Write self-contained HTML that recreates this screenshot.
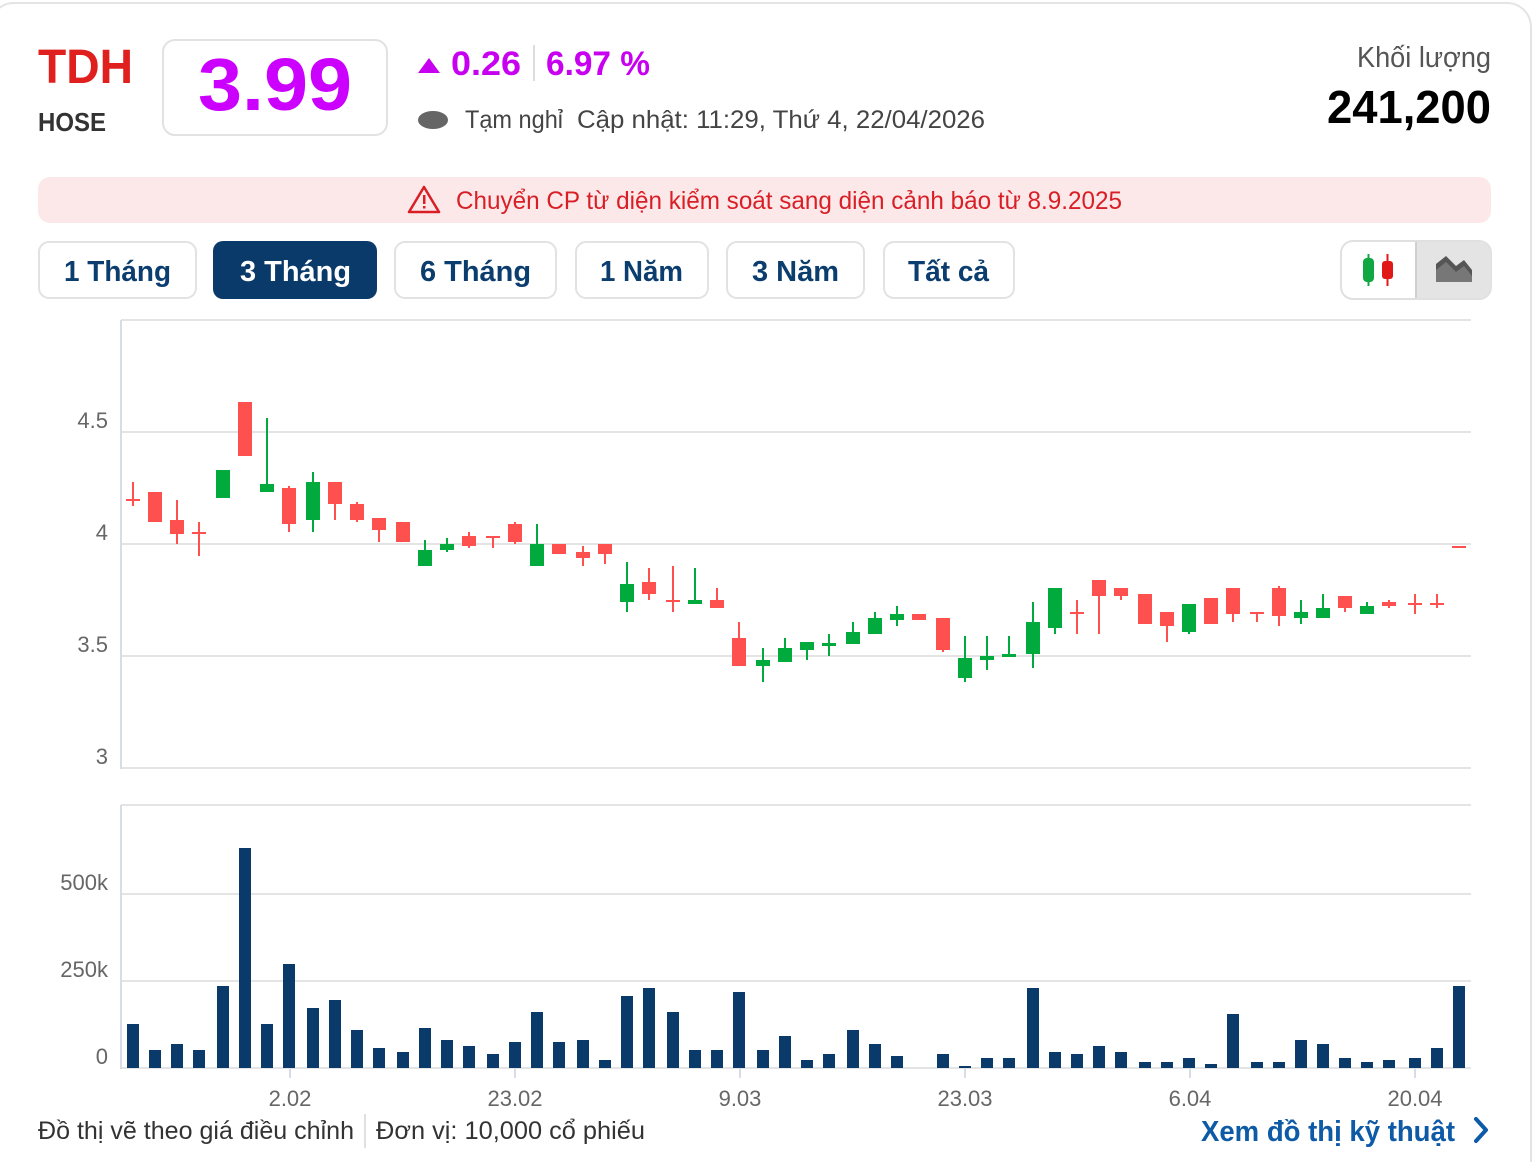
<!DOCTYPE html>
<html><head><meta charset="utf-8"><style>
html,body{margin:0;padding:0;background:#fff;width:1538px;height:1162px;overflow:hidden}
svg text{font-family:"Liberation Sans",sans-serif}
</style></head><body>
<svg id="s" width="1538" height="1162" viewBox="0 0 1538 1162" xmlns="http://www.w3.org/2000/svg">
<rect x="-10" y="3" width="1541" height="1200" rx="24" fill="#fff" stroke="#e4e4e4" stroke-width="2"/>
<text x="38" y="83" font-size="48" font-weight="bold" fill="#e0201f" textLength="95" lengthAdjust="spacingAndGlyphs">TDH</text>
<text x="38" y="131" font-size="26" font-weight="bold" fill="#333" textLength="68" lengthAdjust="spacingAndGlyphs">HOSE</text>
<rect x="163" y="40" width="224" height="95" rx="12" fill="#fff" stroke="#e2e2e2" stroke-width="2"/>
<text x="198" y="110" font-size="74" font-weight="bold" fill="#cc00ff" textLength="154" lengthAdjust="spacingAndGlyphs">3.99</text>
<path d="M418 73 L429 58 L440 73 Z" fill="#c800f0"/>
<text x="451" y="75" font-size="34" font-weight="bold" fill="#c800f0" textLength="70" lengthAdjust="spacingAndGlyphs">0.26</text>
<rect x="533" y="45" width="2" height="36" fill="#ddd"/>
<text x="546" y="75" font-size="34" font-weight="bold" fill="#c800f0" textLength="104" lengthAdjust="spacingAndGlyphs">6.97 %</text>
<ellipse cx="433" cy="120" rx="15" ry="9" fill="#666"/>
<text x="465" y="128" font-size="25" fill="#444" textLength="98" lengthAdjust="spacingAndGlyphs">Tạm nghỉ</text>
<text x="577" y="128" font-size="25" fill="#444" textLength="408" lengthAdjust="spacingAndGlyphs">Cập nhật: 11:29, Thứ 4, 22/04/2026</text>
<text x="1491" y="67" font-size="29" fill="#555" text-anchor="end" textLength="134" lengthAdjust="spacingAndGlyphs">Khối lượng</text>
<text x="1491" y="123" font-size="46" font-weight="bold" fill="#000" text-anchor="end" textLength="164" lengthAdjust="spacingAndGlyphs">241,200</text>
<rect x="38" y="177" width="1453" height="46" rx="12" fill="#fde8e9"/>
<path d="M424 187 L439 212 L409 212 Z" fill="none" stroke="#d81f26" stroke-width="2.5" stroke-linejoin="round"/>
<rect x="423" y="195" width="2.5" height="9" fill="#d81f26"/><rect x="423" y="206" width="2.5" height="2.5" fill="#d81f26"/>
<text x="456" y="209" font-size="25" fill="#d81f26" textLength="666" lengthAdjust="spacingAndGlyphs">Chuyển CP từ diện kiểm soát sang diện cảnh báo từ 8.9.2025</text>
<g font-size="29" font-weight="bold" fill="#0b3d6e">
<rect x="39" y="242" width="157" height="56" rx="10" fill="#fff" stroke="#e2e2e2" stroke-width="2"/>
<text x="64" y="281" textLength="107" lengthAdjust="spacingAndGlyphs">1 Tháng</text>
<rect x="213" y="241" width="164" height="58" rx="10" fill="#0a3a6a"/>
<text x="240" y="281" fill="#fff" textLength="111" lengthAdjust="spacingAndGlyphs">3 Tháng</text>
<rect x="395" y="242" width="161" height="56" rx="10" fill="#fff" stroke="#e2e2e2" stroke-width="2"/>
<text x="420" y="281" textLength="111" lengthAdjust="spacingAndGlyphs">6 Tháng</text>
<rect x="576" y="242" width="132" height="56" rx="10" fill="#fff" stroke="#e2e2e2" stroke-width="2"/>
<text x="600" y="281" textLength="83" lengthAdjust="spacingAndGlyphs">1 Năm</text>
<rect x="727" y="242" width="137" height="56" rx="10" fill="#fff" stroke="#e2e2e2" stroke-width="2"/>
<text x="752" y="281" textLength="87" lengthAdjust="spacingAndGlyphs">3 Năm</text>
<rect x="884" y="242" width="130" height="56" rx="10" fill="#fff" stroke="#e2e2e2" stroke-width="2"/>
<text x="908" y="281" textLength="81" lengthAdjust="spacingAndGlyphs">Tất cả</text>
</g>
<rect x="1341" y="241" width="150" height="58" rx="12" fill="#fff" stroke="#e0e0e0" stroke-width="2"/>
<path d="M1416 242 H1479 a12 12 0 0 1 12 12 V286 a12 12 0 0 1 -12 12 H1416 Z" fill="#e4e4e4"/>
<rect x="1415" y="242" width="2" height="56" fill="#d0d0d0"/>
<rect x="1363" y="258" width="11" height="24" rx="4" fill="#11a844"/><rect x="1367.5" y="254" width="2" height="32" fill="#11a844"/>
<rect x="1382" y="261" width="11" height="18" rx="3" fill="#e01818"/><rect x="1386.5" y="254" width="2" height="32" fill="#e01818"/>
<path d="M1436 282 V264 L1446 256 L1456 266 L1464 260 L1472 270 V282 Z" fill="#555"/>
<path d="M1436 282 V270 L1446 262 L1456 272 L1464 266 L1472 276 V282 Z" fill="#777"/>
<g stroke="#e4e4e4" stroke-width="2">
<line x1="121" y1="320" x2="1471" y2="320"/><line x1="121" y1="432" x2="1471" y2="432"/>
<line x1="121" y1="544" x2="1471" y2="544"/><line x1="121" y1="656" x2="1471" y2="656"/>
<line x1="121" y1="768" x2="1471" y2="768"/>
<line x1="121" y1="805" x2="1471" y2="805"/><line x1="121" y1="894" x2="1471" y2="894"/>
<line x1="121" y1="981" x2="1471" y2="981"/><line x1="121" y1="1068" x2="1471" y2="1068"/>
</g>
<line x1="121" y1="320" x2="121" y2="769" stroke="#d8dbe8" stroke-width="2"/>
<line x1="121" y1="805" x2="121" y2="1069" stroke="#d8dbe8" stroke-width="2"/>
<g font-size="22" fill="#666" text-anchor="end">
<text x="108" y="428">4.5</text><text x="108" y="540">4</text><text x="108" y="652">3.5</text><text x="108" y="764">3</text>
<text x="108" y="890">500k</text><text x="108" y="977">250k</text><text x="108" y="1064">0</text>
</g>
<g font-size="22" fill="#666" text-anchor="middle">
<text x="290" y="1106">2.02</text><text x="515" y="1106">23.02</text><text x="740" y="1106">9.03</text>
<text x="965" y="1106">23.03</text><text x="1190" y="1106">6.04</text><text x="1415" y="1106">20.04</text>
</g>
<g stroke="#d8dbe8" stroke-width="2">
<line x1="290" y1="1069" x2="290" y2="1078"/><line x1="515" y1="1069" x2="515" y2="1078"/><line x1="740" y1="1069" x2="740" y2="1078"/>
<line x1="965" y1="1069" x2="965" y2="1078"/><line x1="1190" y1="1069" x2="1190" y2="1078"/><line x1="1415" y1="1069" x2="1415" y2="1078"/>
</g>
<g id="c"></g>
<text x="38" y="1139" font-size="25" fill="#333" textLength="316" lengthAdjust="spacingAndGlyphs">Đồ thị vẽ theo giá điều chỉnh</text>
<rect x="364" y="1114" width="2" height="34" fill="#e0e0e0"/>
<text x="376" y="1139" font-size="25" fill="#333" textLength="269" lengthAdjust="spacingAndGlyphs">Đơn vị: 10,000 cổ phiếu</text>
<text x="1201" y="1141" font-size="29" font-weight="bold" fill="#0d5aa7" textLength="254" lengthAdjust="spacingAndGlyphs">Xem đồ thị kỹ thuật</text>
<path d="M1476 1119 L1486 1130 L1476 1141" fill="none" stroke="#0d5aa7" stroke-width="4" stroke-linecap="round" stroke-linejoin="round"/>
</svg>
<script>
var R="#ff5050",G="#00aa3c";
var d=[[133,499,501,482,506,R],[155,492,522,492,522,R],[177,520,534,500,544,R],[199,532,534,522,556,R],[223,470,498,470,498,G],[245,402,456,402,456,R],[267,484,492,418,492,G],[289,488,524,486,532,R],[313,482,520,472,532,G],[335,482,504,482,520,R],[357,504,520,502,522,R],[379,518,530,518,542,R],[403,522,542,522,542,R],[425,550,566,540,566,G],[447,544,550,538,552,G],[469,536,546,532,548,R],[493,536,538,536,548,R],[515,524,542,522,544,R],[537,544,566,524,566,G],[559,544,554,544,554,R],[583,552,558,546,566,R],[605,544,554,544,564,R],[627,584,602,562,612,G],[649,582,594,568,600,R],[673,600,602,566,612,R],[695,600,604,568,604,G],[717,600,608,588,608,R],[739,638,666,622,666,R],[763,660,666,648,682,G],[785,648,662,638,662,G],[807,642,650,642,660,G],[829,643,646,634,656,G],[853,632,644,622,644,G],[875,618,634,612,634,G],[897,614,620,606,626,G],[919,614,620,614,620,R],[943,618,650,618,652,R],[965,658,678,636,682,G],[987,656,660,636,670,G],[1009,654,657,636,657,G],[1033,622,654,602,668,G],[1055,588,628,588,634,G],[1077,612,614,600,634,R],[1099,580,596,580,634,R],[1121,588,596,588,600,R],[1145,594,624,594,624,R],[1167,612,626,612,642,R],[1189,604,632,604,634,G],[1211,598,624,598,624,R],[1233,588,614,588,622,R],[1257,612,614,612,622,R],[1279,588,616,586,626,R],[1301,612,618,600,624,G],[1323,608,618,594,618,G],[1345,596,608,596,612,R],[1367,606,614,602,614,G],[1389,602,606,600,608,R],[1415,603,605,594,614,R],[1437,603,605,594,608,R],[1459,546,548,546,548,R]];
var v=[1024,1050,1044,1050,986,848,1024,964,1008,1000,1030,1048,1052,1028,1040,1046,1054,1042,1012,1042,1040,1060,996,988,1012,1050,1050,992,1050,1036,1060,1054,1030,1044,1056,1068,1054,1066,1058,1058,988,1052,1054,1046,1052,1062,1062,1058,1064,1014,1062,1062,1040,1044,1058,1062,1060,1058,1048,986];
var h="";
d.forEach(function(c,i){var x=c[0];
h+='<rect x="'+(x-1)+'" y="'+c[3]+'" width="2" height="'+(c[4]-c[3])+'" fill="'+c[5]+'"/>';
h+='<rect x="'+(x-7)+'" y="'+c[1]+'" width="14" height="'+Math.max(2,c[2]-c[1])+'" fill="'+c[5]+'"/>';
h+='<rect x="'+(x-6)+'" y="'+v[i]+'" width="12" height="'+(1068-v[i])+'" fill="#0a3a6a"/>';});
document.getElementById("c").innerHTML=h;
</script>
</body></html>
